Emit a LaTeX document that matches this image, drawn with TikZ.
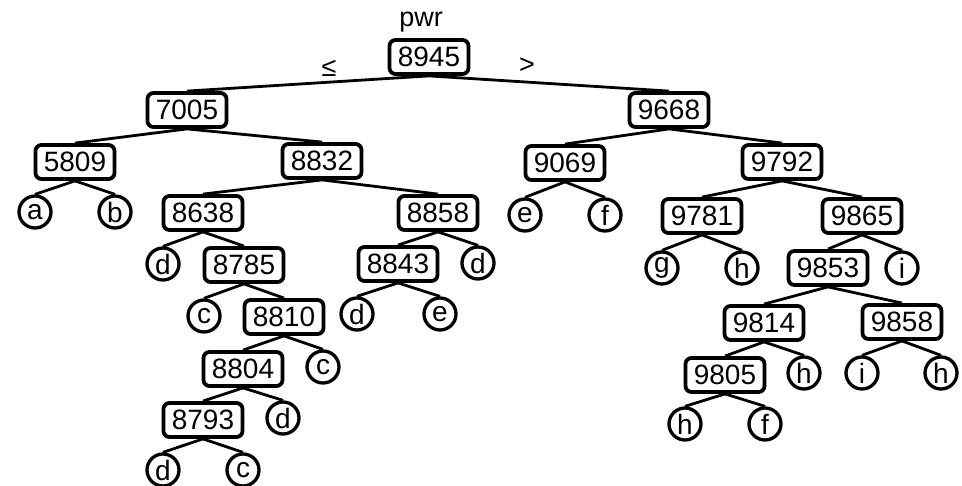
\documentclass[tikz,border=0pt]{standalone}
\usepackage{fontspec}
\setmainfont{Liberation Sans}
\begin{document}
\begin{tikzpicture}[x=1pt,y=-1pt,
  keybox/.style={draw, line width=3.8pt, rounded corners=6pt, fill=white,
    minimum width=79pt, minimum height=34pt, inner sep=0pt,
    font=\fontsize{28}{31}\selectfont},
  leaf/.style={draw, circle, line width=3.3pt, fill=white,
    minimum size=32pt, inner sep=0pt,
    font=\fontsize{28}{31}\selectfont},
  lbl/.style={inner sep=0pt, font=\fontsize{27}{30}\selectfont},
  link/.style={line width=2.8pt}]
\useasboundingbox (0,0) rectangle (962,486);

% internal (split) nodes
\node[keybox] (r)  at (429,57)  {8945};
\node[keybox] (n1) at (187,110) {7005};
\node[keybox] (n2) at (669,110) {9668};
\node[keybox] (n3) at (75,162)  {5809};
\node[keybox] (n4) at (322,161) {8832};
\node[keybox] (n5) at (565,163) {9069};
\node[keybox] (n6) at (782,162) {9792};
\node[keybox] (n7) at (203,213) {8638};
\node[keybox] (n8) at (438,213) {8858};
\node[keybox] (n9) at (702,216) {9781};
\node[keybox] (n10) at (862,216) {9865};
\node[keybox] (n11) at (244,265) {8785};
\node[keybox] (n12) at (398,264) {8843};
\node[keybox] (n13) at (828,268) {9853};
\node[keybox] (n14) at (284,317) {8810};
\node[keybox] (n15) at (764,323) {9814};
\node[keybox] (n16) at (902,322) {9858};
\node[keybox] (n17) at (243,369) {8804};
\node[keybox] (n18) at (725,375) {9805};
\node[keybox] (n19) at (203,420) {8793};

% leaves
\node[leaf] (la)  at (35,212)  {a};
\node[leaf] (lb)  at (115,212) {b};
\node[leaf] (le1) at (525,215) {e};
\node[leaf] (lf1) at (605,215) {f};
\node[leaf] (ld1) at (163,264) {d};
\node[leaf] (ld2) at (478,263) {d};
\node[leaf] (lg)  at (662,268) {g};
\node[leaf] (lh1) at (742,268) {h};
\node[leaf] (li1) at (902,268) {i};
\node[leaf] (lc1) at (204,316) {c};
\node[leaf] (ld3) at (357,314) {d};
\node[leaf] (le2) at (440,314) {e};
\node[leaf] (lc2) at (323,367) {c};
\node[leaf] (lh2) at (804,373) {h};
\node[leaf] (li2) at (862,373) {i};
\node[leaf] (lh3) at (941,373) {h};
\node[leaf] (ld4) at (283,418) {d};
\node[leaf] (lh4) at (685,424) {h};
\node[leaf] (lf2) at (765,424) {f};
\node[leaf] (ld5) at (163,470) {d};
\node[leaf] (lc3) at (243,470) {c};

% labels around the root
\node[lbl] (pwr) at (421,22) {pwr};
\node[lbl] (le)  at (329,68) {≤};
\node[lbl] (gt)  at (527,66) {>};

% tree edges
\foreach \p/\c in {r/n1, r/n2, n1/n3, n1/n4, n2/n5, n2/n6,
    n3/la, n3/lb, n4/n7, n4/n8, n5/le1, n5/lf1, n6/n9, n6/n10,
    n7/ld1, n7/n11, n8/n12, n8/ld2, n9/lg, n9/lh1, n10/n13, n10/li1,
    n11/lc1, n11/n14, n12/ld3, n12/le2, n13/n15, n13/n16,
    n14/n17, n14/lc2, n15/n18, n15/lh2, n16/li2, n16/lh3,
    n17/n19, n17/ld4, n18/lh4, n18/lf2, n19/ld5, n19/lc3}
  \draw[link] (\p.south) -- (\c.north);
\end{tikzpicture}
\end{document}
